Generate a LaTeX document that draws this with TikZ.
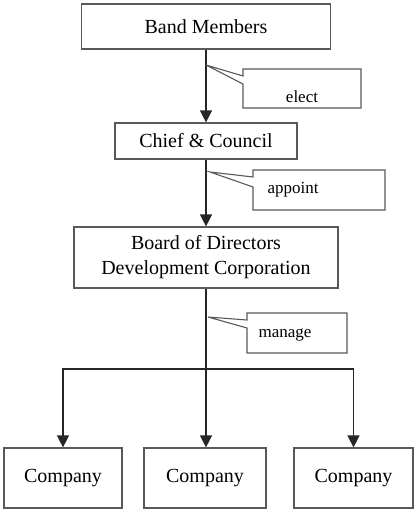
\documentclass[tikz,border=0pt]{standalone}
\usepackage{fontspec}
\setmainfont{Liberation Serif}
\usepackage{tikz}
\usetikzlibrary{arrows.meta}

\begin{document}
\begin{tikzpicture}[x=1pt,y=-1pt,
    box/.style={draw=black!65, line width=1.2pt, inner sep=0pt,
      font=\fontsize{20}{25}\selectfont, align=center},
    callbox/.style={draw=black!65, line width=1.1pt, line join=miter},
    calltext/.style={inner sep=0pt, font=\fontsize{17}{20}\selectfont},
    link/.style={draw=black!85, line width=1.4pt,
      -{Triangle[width=12pt,length=12pt]}}]

  \useasboundingbox (0,0) rectangle (414,510);

  % the three levels
  \node[box, minimum width=249pt, minimum height=45pt] (band) at (206,26.5) {Band Members};
  \node[box, minimum width=182pt, minimum height=36pt] (chief) at (206,141) {Chief \& Council};
  \node[box, minimum width=264pt, minimum height=61pt] (board) at (206,257.5)
    {Board of Directors\\Development Corporation};

  \foreach \n/\x/\w in {left/63/118, mid/205/122, right/353.5/119} {
    \node[box, minimum width=\w pt, minimum height=60pt] (\n) at (\x,478) {Company};
  }

  % connectors
  \draw[link] (band) -- (chief);
  \draw[link] (chief) -- (board);
  \coordinate (split) at (206,369);
  \draw[link] (board.south) -- (board.south |- mid.north);
  \draw[link] (split) -| (left);
  \draw[link] (split) -| (right);

  % callouts
  \coordinate (electtip) at (206,65);
  \node[calltext] (elect) at (302,97) {elect};
  \draw[callbox] (243,69) -| (361,108) -| (243,84) -- (electtip) -- (243,76) -- cycle;

  \coordinate (appointtip) at (210,172);
  \node[calltext] (appoint) at (293,190) {appoint};
  \draw[callbox] (253,170) -| (385,210) -| (253,187) -- (appointtip) -- (253,177) -- cycle;

  \coordinate (managetip) at (208,317);
  \node[calltext] (manage) at (285,335) {manage};
  \draw[callbox] (247,313) -| (347,353) -| (247,328) -- (managetip) -- (247,320) -- cycle;
\end{tikzpicture}
\end{document}
